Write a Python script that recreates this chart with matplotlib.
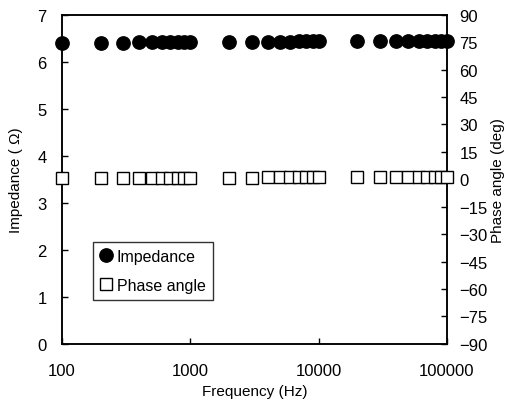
import matplotlib
matplotlib.use("Agg")
import matplotlib.pyplot as plt
from matplotlib.lines import Line2D

plt.rcParams['font.family'] = ['Liberation Sans', 'DejaVu Sans']

# Measurement frequencies (Hz)
freq = [100, 200, 300, 400, 500, 600, 700, 800, 900, 1000,
        2000, 3000, 4000, 5000, 6000, 7000, 8000, 9000, 10000,
        20000, 30000, 40000, 50000, 60000, 70000, 80000, 90000, 100000]

# Impedance magnitude (ohm)
impedance = [6.40, 6.40, 6.40, 6.41, 6.41, 6.41, 6.41, 6.41, 6.41, 6.41,
             6.42, 6.42, 6.42, 6.42, 6.42, 6.43, 6.43, 6.43, 6.43,
             6.44, 6.44, 6.44, 6.45, 6.45, 6.45, 6.45, 6.45, 6.45]

# Phase angle (deg)
phase = [0.6, 0.6, 0.6, 0.7, 0.7, 0.7, 0.7, 0.7, 0.7, 0.8,
         0.9, 0.9, 1.0, 1.0, 1.0, 1.0, 1.0, 1.0, 1.1,
         1.2, 1.3, 1.3, 1.3, 1.4, 1.4, 1.4, 1.5, 1.5]

x_ticks = [100, 1000, 10000, 100000]
left_ticks = list(range(0, 8))
right_ticks = list(range(-90, 91, 15))

fig = plt.figure(figsize=(5.12, 4.02), dpi=100)
ax = fig.add_axes([0.121, 0.142, 0.752, 0.819])
ax2 = ax.twinx()

ax.plot(freq, impedance, linestyle='none', marker='o', markersize=9.6,
        color='black', clip_on=False, zorder=5)
ax2.plot(freq, phase, linestyle='none', marker='s', markersize=8.6,
         markerfacecolor='white', markeredgecolor='black', markeredgewidth=1.0,
         clip_on=False, zorder=5)

ax.set_xscale('log')
ax.set_xlim(100, 100000)
ax.set_ylim(0, 7)
ax2.set_ylim(-90, 90)

ax.set_xticks(x_ticks)
ax.set_xticklabels([str(v) for v in x_ticks])
ax.xaxis.set_minor_locator(matplotlib.ticker.NullLocator())
ax.set_yticks(left_ticks)
ax2.set_yticks(right_ticks)
ax2.set_yticklabels([str(v).replace('-', '\u2212') for v in right_ticks])

for a in (ax, ax2):
    a.tick_params(direction='in', length=4, width=1, labelsize=12, pad=6)
    for s in a.spines.values():
        s.set_linewidth(1.1)
ax.tick_params(axis='y', pad=11)
ax2.tick_params(axis='y', pad=9)
ax.tick_params(axis='x', pad=14)

ax.set_xlabel('Frequency (Hz)', fontsize=11, labelpad=4)
ax.set_ylabel('Impedance ( \u03a9)', fontsize=11, labelpad=10)
ax2.set_ylabel('Phase angle (deg)', fontsize=11, labelpad=2)

handles = [
    Line2D([], [], linestyle='none', marker='o', markersize=9.6, color='black'),
    Line2D([], [], linestyle='none', marker='s', markersize=8.6,
           markerfacecolor='white', markeredgecolor='black', markeredgewidth=1.0),
]
leg = ax.legend(handles, ['Impedance', 'Phase angle'], loc='upper left',
                bbox_to_anchor=(0.08, 0.31), fontsize=11.5, frameon=True,
                fancybox=False, edgecolor='black', handlelength=0.8,
                handletextpad=0.25, borderpad=0.45, labelspacing=0.85,
                borderaxespad=0.0)
leg.get_frame().set_linewidth(1.0)

fig.savefig('out.png', dpi=100)
